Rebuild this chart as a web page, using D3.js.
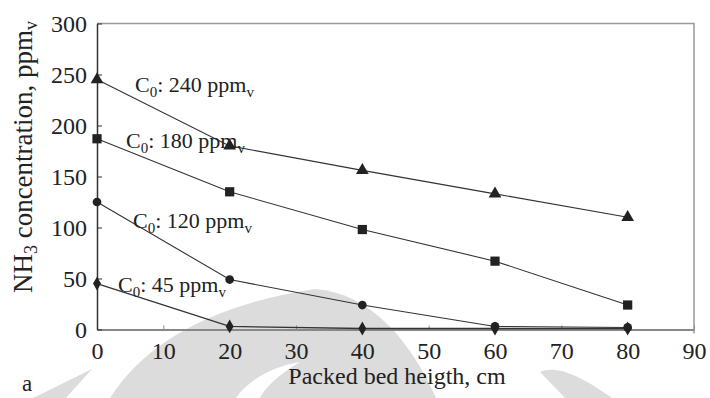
<!DOCTYPE html>
<html>
<head>
<meta charset="utf-8">
<script src="https://cdn.jsdelivr.net/npm/d3@7"></script>
<style>
  body { margin: 0; background: #fff; }
  text { font-family: "Liberation Serif", "Times New Roman", serif; fill: #222; }
</style>
</head>
<body>
<div id="chart"></div>
<script>
var svgWidth = 710;
var svgHeight = 398;

// data
var heights = [0, 20, 40, 60, 80];
var c240 = [245, 180, 156, 133, 110];
var c180 = [187, 135, 98, 67, 24];
var c120 = [125, 49, 24, 3, 2];
var c45 = [45, 3, 1, 1, 1];
var seriesLabels = ["240", "180", "120", "45"];
var xTicks = [0, 10, 20, 30, 40, 50, 60, 70, 80, 90];
var yTicks = [0, 50, 100, 150, 200, 250, 300];

var margin = { top: 23.5, right: 16, bottom: 68.5, left: 97 };
var width = svgWidth - margin.left - margin.right;
var height = svgHeight - margin.top - margin.bottom;

var svg = d3.select("#chart")
  .append("svg")
  .attr("width", svgWidth)
  .attr("height", svgHeight);

// faint watermark in the background
var wm = svg.append("g").attr("fill", "#dcdcdc");
wm.append("path").attr("d", "M33,398 L92,369 L66,398 Z");
wm.append("path").attr("d", "M110,398 Q165,312 315,289 C370,293 410,340 436,398 Z");
wm.append("path").attr("fill", "#fff").attr("d", "M236,398 C250,378 275,366 300,362 C280,374 266,386 260,398 Z");
wm.append("path").attr("d", "M540,372 C555,366 575,372 612,398 L565,398 Z");

var chartGroup = svg.append("g")
  .attr("transform", `translate(${margin.left}, ${margin.top})`);

var xScale = d3.scaleLinear().domain([0, 90]).range([0, width]);
var yScale = d3.scaleLinear().domain([0, 300]).range([height, 0]);

// frame (top and right)
chartGroup.append("path")
  .attr("d", `M0,0 H${width} V${height + 4}`)
  .attr("fill", "none")
  .attr("stroke", "#999")
  .attr("stroke-width", 1.5);

var xAxis = d3.axisBottom(xScale)
  .tickValues(xTicks)
  .tickSizeInner(-4)
  .tickSizeOuter(0)
  .tickPadding(12);

var yAxis = d3.axisLeft(yScale)
  .tickValues(yTicks)
  .tickSizeInner(-5)
  .tickSizeOuter(0)
  .tickPadding(10);

var gx = chartGroup.append("g")
  .attr("transform", `translate(0, ${height})`)
  .call(xAxis);
gx.select(".domain").attr("stroke", "#888").attr("stroke-width", 2);
gx.selectAll(".tick line").attr("stroke", "#888");
gx.selectAll("text").attr("font-size", "24px").attr("font-family", null).attr("fill", "#222");

var gy = chartGroup.append("g").call(yAxis);
gy.select(".domain").attr("stroke", "#333").attr("stroke-width", 1.5);
gy.selectAll(".tick line").attr("stroke", "#333");
gy.selectAll("text").attr("font-size", "24px").attr("font-family", null).attr("fill", "#222");

var line = d3.line()
  .x(function (d, i) { return xScale(heights[i]); })
  .y(function (d) { return yScale(d); });

var allSeries = [c240, c180, c120, c45];
var symbols = [d3.symbolTriangle, d3.symbolSquare, d3.symbolCircle, d3.symbolDiamond];
var symSizes = [70, 85, 60, 55];

allSeries.forEach(function (s, k) {
  chartGroup.append("path")
    .datum(s)
    .attr("d", line)
    .attr("fill", "none")
    .attr("stroke", "#333")
    .attr("stroke-width", k == 3 ? 1.3 : 1.1);

  chartGroup.selectAll("path.m" + k)
    .data(s)
    .enter()
    .append("path")
    .attr("class", "m" + k)
    .attr("d", d3.symbol().type(symbols[k]).size(symSizes[k]))
    .attr("transform", function (d, i) { return `translate(${xScale(heights[i])}, ${yScale(d)})`; })
    .attr("fill", "#222");
});

// series labels
var labelPos = [[135, 92], [126, 148], [133, 228], [118, 292]];
labelPos.forEach(function (p, k) {
  var t = svg.append("text")
    .attr("x", p[0])
    .attr("y", p[1])
    .attr("font-size", "22px");
  t.append("tspan").text("C");
  t.append("tspan").attr("font-size", "15px").attr("dy", 5).text("0");
  t.append("tspan").attr("dy", -5).text(": " + seriesLabels[k] + " ppm");
  t.append("tspan").attr("font-size", "15px").attr("dy", 5).text("v");
});

// axis titles
var yt = svg.append("text")
  .attr("transform", "translate(32, 157) rotate(-90)")
  .attr("text-anchor", "middle")
  .attr("font-size", "27px");
yt.append("tspan").text("NH");
yt.append("tspan").attr("font-size", "18px").attr("dy", 5).text("3");
yt.append("tspan").attr("dy", -5).text(" concentration, ppm");
yt.append("tspan").attr("font-size", "18px").attr("dy", 5).text("v");

svg.append("text")
  .attr("x", 397)
  .attr("y", 384)
  .attr("text-anchor", "middle")
  .attr("font-size", "24px")
  .text("Packed bed heigth, cm");

svg.append("text")
  .attr("x", 22)
  .attr("y", 391)
  .attr("font-size", "23px")
  .text("a");
</script>
</body>
</html>
